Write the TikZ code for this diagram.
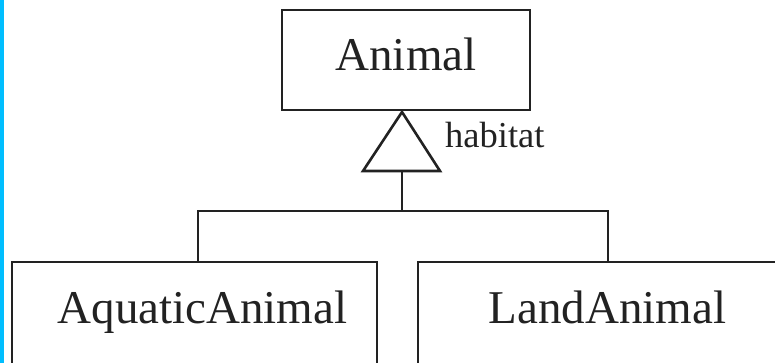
\documentclass[tikz,border=0pt]{standalone}
\usepackage{fontspec}
\setmainfont{Liberation Serif}
\definecolor{ink}{RGB}{34,34,34}
\definecolor{barblue}{RGB}{0,190,255}
\begin{document}
\begin{tikzpicture}[x=1pt,y=-1pt,
  umlbox/.style={draw=ink,line width=2.8pt,inner sep=0pt,align=center,text=ink,
     font=\fontsize{47}{47}\selectfont},
  conn/.style={draw=ink,line width=2.6pt},
  lbl/.style={text=ink,inner sep=0pt,font=\fontsize{36.5}{36.5}\selectfont}]
\useasboundingbox (0,0) rectangle (775,363);
\clip (0,0) rectangle (775,363);
\fill[barblue] (0,0) rectangle (3.5,363);
% boxes
\node[umlbox,text width=248pt,text height=61pt,text depth=39pt] (animal) at (406,60) {Animal};
\node[umlbox,text width=365pt,text height=61pt,text depth=41pt] (aquatic) at (194.5,313) {\hspace*{16pt}AquaticAnimal};
\node[umlbox,text width=379pt,text height=61pt,text depth=41pt] (land) at (607.5,313) {LandAnimal};
% generalization
\coordinate (apex) at (402,112);
\coordinate (tribase) at (402,171);
\coordinate (join) at (402,211);
\coordinate (aqtop) at (198,262);
\coordinate (ldtop) at (608,262);
\draw[conn,line join=miter] (apex) -- ++(-39,59) -- ++(77,0) -- cycle;
\draw[conn] (tribase) -- (join);
\draw[conn] (aqtop) -- (aqtop |- join) -- (ldtop |- join) -- (ldtop);
\node[lbl,anchor=base west] (habitat) at (445,148) {habitat};
\end{tikzpicture}
\end{document}
